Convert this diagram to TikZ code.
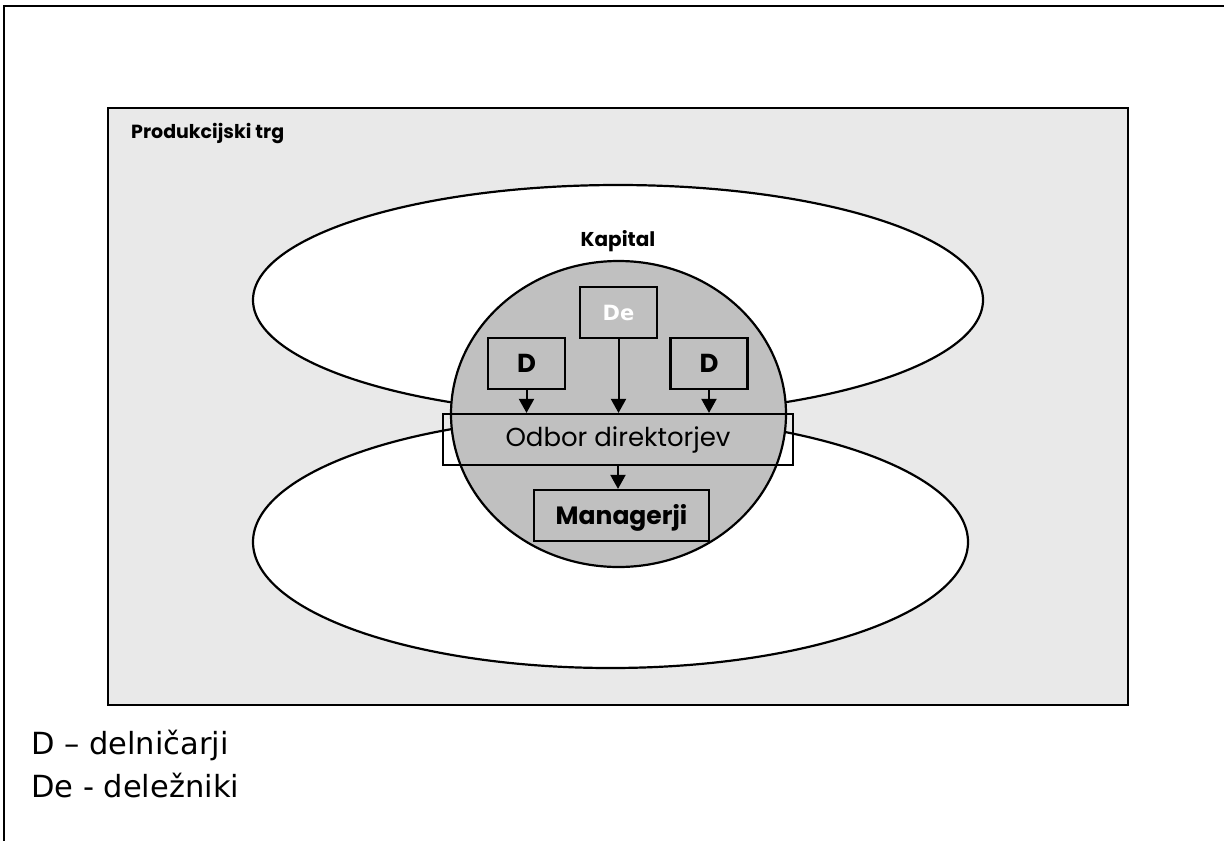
\documentclass[tikz,border=0pt]{standalone}
\usepackage{fontspec}
\setmainfont{Poppins}
\newfontfamily\legendfont{DejaVu Sans}
\usetikzlibrary{arrows.meta}
\definecolor{bggrey}{HTML}{E9E9E9}
\definecolor{circgrey}{HTML}{C0C0C0}
\tikzset{
  every picture/.style={x=1pt,y=-1pt},
  boxnode/.style={draw=black, line width=2.2pt, fill=circgrey, inner sep=0pt, minimum height=51pt},
  arr/.style={line width=2pt, -{Triangle[width=15pt,length=14pt]}},
  shape line/.style={draw=black, line width=2.2pt}
}
\begin{document}
\begin{tikzpicture}
\useasboundingbox (0,0) rectangle (1224,841);
% page frame (top and left only)
\coordinate (ftl) at (4,6);
\coordinate (ftr) at (1224,6);
\coordinate (fbl) at (4,841);
\draw[line width=2.5pt] (ftr) -- (ftl) -- (fbl);
% market rectangle
\node[draw=black, line width=2.4pt, fill=bggrey, minimum width=1020pt, minimum height=597pt, inner sep=0pt] (trg) at (618,406.5) {};
\node[anchor=west, inner sep=0pt, font=\bfseries\fontsize{19}{21}\selectfont] (trglabel) at (131,134) {Produkcijski trg};
% ellipses
\draw[shape line, fill=white] (618,300) ellipse [x radius=365, y radius=115];
\draw[shape line, fill=white] (610.5,542) ellipse [x radius=357.5, y radius=126];
% capital circle
\draw[shape line, fill=circgrey] (618.5,414) ellipse [x radius=167.5, y radius=153];
\node[font=\bfseries\fontsize{20}{22}\selectfont] (kapital) at (618,241) {Kapital};
% boxes
\node[boxnode, minimum width=77pt, font=\legendfont\bfseries\fontsize{21}{23}\selectfont, text=white] (de) at (618.5,312.5) {De};
\node[boxnode, minimum width=77pt, font=\bfseries\fontsize{26}{28}\selectfont] (dl) at (526.5,363.5) {D};
\node[boxnode, minimum width=77pt, font=\bfseries\fontsize{26}{28}\selectfont] (dr) at (709,363.5) {D};
\node[draw=black, line width=2.2pt, inner sep=0pt, minimum width=350pt, minimum height=51pt, font=\fontsize{26}{28}\selectfont] (odbor) at (618,439.5) {Odbor direktorjev};
\node[boxnode, minimum width=175pt] (mgr) at (621.5,515.5) {};
\node[font=\bfseries\fontsize{25}{27}\selectfont] (mgrlabel) at (621.5,518) {Managerji};
% arrows
\draw[arr] (dl.south) -- (dl.south |- odbor.north);
\draw[arr] (de.south) -- (de.south |- odbor.north);
\draw[arr] (dr.south) -- (dr.south |- odbor.north);
\draw[arr] (odbor.south) -- (odbor.south |- mgr.north);
% legend
\node[anchor=west, inner sep=0pt, font=\legendfont\fontsize{30.5}{33}\selectfont] (leg1) at (31,745) {D – delničarji};
\node[anchor=west, inner sep=0pt, font=\legendfont\fontsize{30.5}{33}\selectfont] (leg2) at (31,786) {De - deležniki};
\end{tikzpicture}
\end{document}
